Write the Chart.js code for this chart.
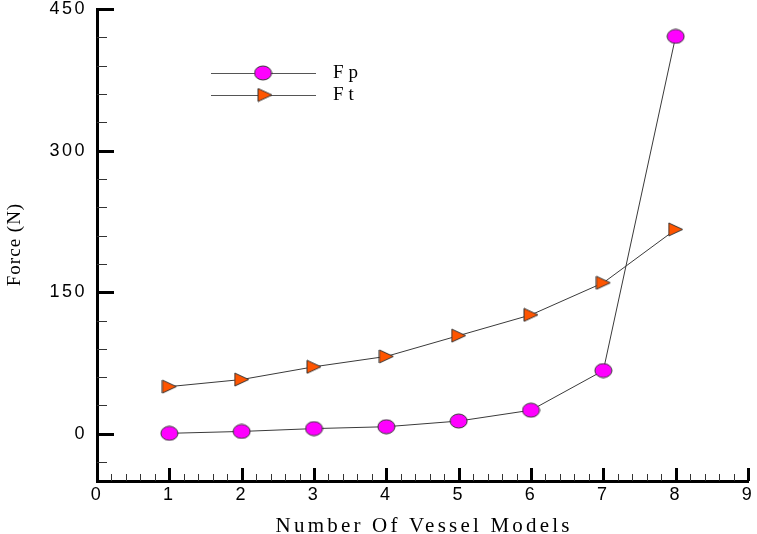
<!DOCTYPE html>
<html><head><meta charset="utf-8">
<script src="https://cdn.jsdelivr.net/npm/chart.js@4/dist/chart.umd.min.js"></script>
<style>html,body{margin:0;padding:0;background:#fff;overflow:hidden}</style>
</head><body>
<canvas id="c" width="757" height="534"></canvas>
<script>
// ---- data ----
const models   = [1, 2, 3, 4, 5, 6, 7, 8];
const fpValues = [0.5, 2.5, 5.5, 7.5, 13.5, 25, 67, 421];
const ftValues = [50, 57.5, 71, 82, 104, 126, 160, 216.5];
const xTicks   = [0, 1, 2, 3, 4, 5, 6, 7, 8, 9];
const yTicks   = [0, 150, 300, 450];
const xMinorStep = 0.2;
const yMinorStep = 30;
const seriesNames = ['Fp', 'Ft'];

// ---- marker images ----
function makeEllipse() {
  const c = document.createElement('canvas'); c.width = 19; c.height = 16;
  const g = c.getContext('2d');
  g.beginPath(); g.ellipse(9.5, 8, 8.5, 7, 0, 0, Math.PI * 2);
  g.fillStyle = '#ff00ff'; g.fill();
  g.lineWidth = 1; g.strokeStyle = '#333'; g.stroke();
  return c;
}
function makeTriangle() {
  const c = document.createElement('canvas'); c.width = 16; c.height = 15;
  const g = c.getContext('2d');
  g.beginPath(); g.moveTo(1, 1); g.lineTo(15, 7.5); g.lineTo(1, 14); g.closePath();
  g.fillStyle = '#ff5500'; g.fill();
  g.lineWidth = 1; g.strokeStyle = '#333'; g.stroke();
  return c;
}
const ellipseImg = makeEllipse();
const triImg = makeTriangle();

function drawSpaced(ctx, text, x, y, spacing, align) {
  ctx.letterSpacing = spacing + 'px';
  const w = ctx.measureText(text).width - spacing;
  let sx = x;
  if (align === 'center') sx = x - w / 2;
  else if (align === 'right') sx = x - w;
  ctx.textAlign = 'left';
  ctx.fillText(text, sx, y);
  ctx.letterSpacing = '0px';
}

const decor = {
  id: 'decor',
  beforeDraw(chart) { chart.ctx.letterSpacing = '2.5px'; },
  beforeDatasetsDraw(chart) {
    const ctx = chart.ctx;
    ctx.letterSpacing = '0px';
    const xs = chart.scales.x, ys = chart.scales.y;
    const { left, bottom } = chart.chartArea;
    ctx.save();
    // x ticks
    const nx = Math.round((xs.max - xs.min) / xMinorStep);
    for (let i = 0; i <= nx; i++) {
      const v = xs.min + i * xMinorStep;
      const major = xTicks.some(t => Math.abs(t - v) < 1e-6);
      const px = Math.round(xs.getPixelForValue(v)) + 0.5;
      ctx.lineWidth = major ? 3 : 1;
      ctx.strokeStyle = major ? '#000' : '#333';
      ctx.beginPath(); ctx.moveTo(px, bottom); ctx.lineTo(px, bottom - (major ? 13 : 7)); ctx.stroke();
    }
    // y ticks
    const start = Math.ceil(ys.min / yMinorStep) * yMinorStep;
    for (let v = start; v <= ys.max + 1e-6; v += yMinorStep) {
      if (yTicks.includes(v)) continue;
      const py = Math.round(ys.getPixelForValue(v)) + 0.5;
      ctx.lineWidth = 1; ctx.strokeStyle = '#333';
      ctx.beginPath(); ctx.moveTo(left, py); ctx.lineTo(left + 10, py); ctx.stroke();
    }
    yTicks.forEach(v => {
      const py = Math.round(ys.getPixelForValue(v)) + 0.5;
      ctx.lineWidth = 3; ctx.strokeStyle = '#000';
      ctx.beginPath(); ctx.moveTo(left, py); ctx.lineTo(left + 17, py); ctx.stroke();
    });
    ctx.restore();
  },
  afterDraw(chart) {
    const ctx = chart.ctx;
    const { left, right, top, bottom } = chart.chartArea;
    ctx.save();
    ctx.fillStyle = '#000';
    ctx.textBaseline = 'alphabetic';
    // x title
    ctx.font = '21px "Liberation Serif", "Times New Roman", serif';
    drawSpaced(ctx, 'Number Of Vessel Models', (left + right) / 2, 532, 3.2, 'center');
    // y title
    ctx.save();
    ctx.translate(20, (top + bottom) / 2);
    ctx.rotate(-Math.PI / 2);
    ctx.font = '19px "Liberation Serif", "Times New Roman", serif';
    drawSpaced(ctx, 'Force (N)', 0, 0, 1, 'center');
    ctx.restore();
    // legend
    const rows = [
      { y: 73, img: ellipseImg, mx: 263, label: seriesNames[0] },
      { y: 95, img: triImg, mx: 265, label: seriesNames[1] }
    ];
    rows.forEach(r => {
      ctx.strokeStyle = '#555'; ctx.lineWidth = 1;
      ctx.beginPath(); ctx.moveTo(211, r.y + 0.5); ctx.lineTo(316, r.y + 0.5); ctx.stroke();
      ctx.drawImage(r.img, r.mx - r.img.width / 2, r.y - r.img.height / 2);
      ctx.font = '19px "Liberation Serif", "Times New Roman", serif';
      ctx.textBaseline = 'middle';
      drawSpaced(ctx, r.label, 333, r.y, 5, 'left');
    });
    ctx.restore();
  }
};

new Chart(document.getElementById('c'), {
  type: 'line',
  data: {
    datasets: [
      {
        label: seriesNames[0],
        data: models.map((m, i) => ({ x: m, y: fpValues[i] })),
        borderColor: '#3a3a3a', borderWidth: 1,
        pointStyle: ellipseImg, pointRadius: 8, tension: 0
      },
      {
        label: seriesNames[1],
        data: models.map((m, i) => ({ x: m, y: ftValues[i] })),
        borderColor: '#3a3a3a', borderWidth: 1,
        pointStyle: triImg, pointRadius: 8, tension: 0
      }
    ]
  },
  options: {
    responsive: false, animation: false, devicePixelRatio: 1,
    layout: { padding: { top: 6, right: 6, left: 0, bottom: 0 } },
    plugins: { legend: { display: false }, tooltip: { enabled: false } },
    scales: {
      x: {
        type: 'linear', min: 0, max: 9,
        afterBuildTicks: s => { s.ticks = xTicks.map(v => ({ value: v })); },
        afterFit: s => { s.height = 53; s.paddingLeft = 0; s.paddingRight = 0; },
        grid: { display: false, drawTicks: false },
        border: { display: true, color: '#000', width: 3 },
        ticks: { color: '#000', padding: 3, maxRotation: 0, autoSkip: false,
                 font: { family: '"Liberation Sans", Arial, sans-serif', size: 18 } },
        title: { display: false }
      },
      y: {
        type: 'linear', min: -50, max: 450,
        afterBuildTicks: s => { s.ticks = yTicks.map(v => ({ value: v })); },
        afterFit: s => { s.width = 97; s.paddingTop = 0; s.paddingBottom = 0; },
        grid: { display: false, drawTicks: false },
        border: { display: true, color: '#000', width: 3 },
        ticks: { color: '#000', padding: 10, autoSkip: false,
                 font: { family: '"Liberation Sans", Arial, sans-serif', size: 18 } },
        title: { display: false }
      }
    }
  },
  plugins: [decor]
});
</script>
</body></html>
